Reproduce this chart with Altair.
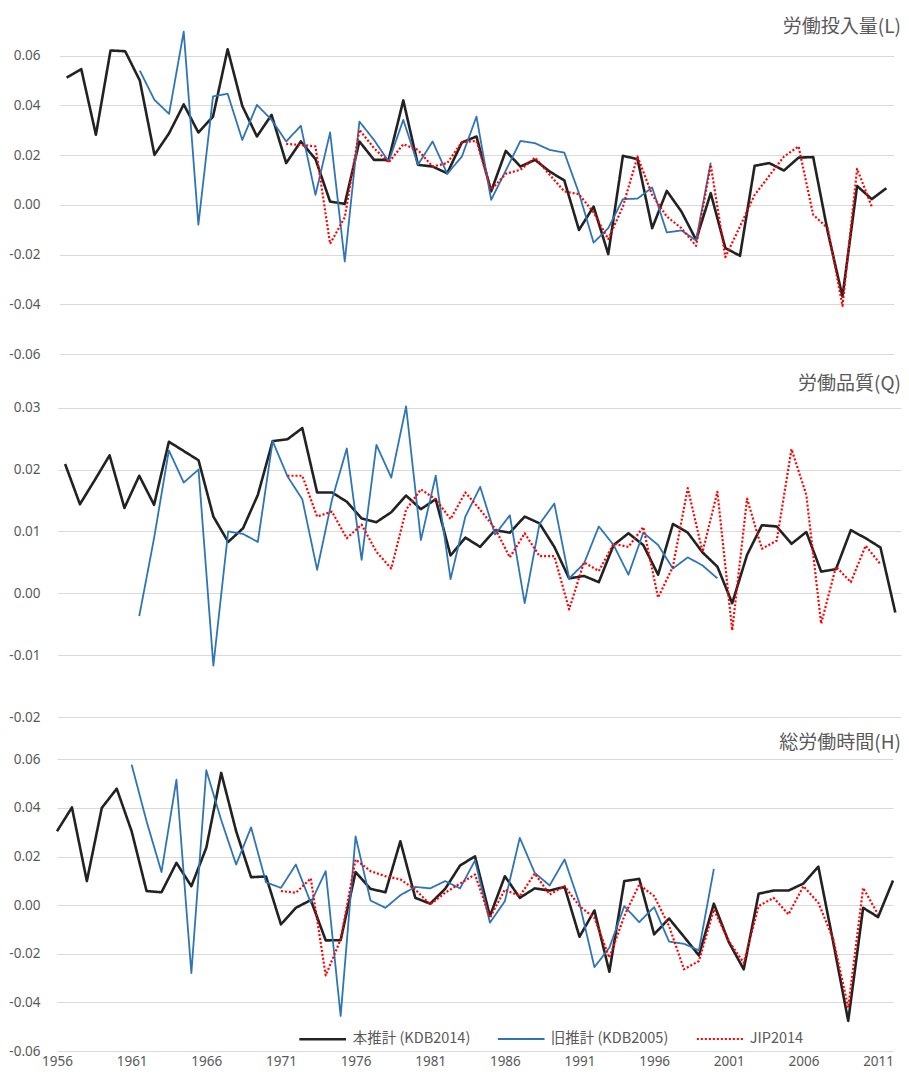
import altair as alt
import pandas as pd

years = list(range(1956, 2013))
years_kdb2005 = list(range(1961, 2001))
years_jip = list(range(1971, 2012))
series_names = ["本推計 (KDB2014)", "旧推計 (KDB2005)", "JIP2014"]
series_colors = ["#222222", "#2e75b6", "#ff0000"]
panel_titles = ["労働投入量(L)", "労働品質(Q)", "総労働時間(H)"]
x_tick_years = [1956, 1961, 1966, 1971, 1976, 1981, 1986, 1991, 1996, 2001, 2006, 2011]
ticks_L = [-0.06, -0.04, -0.02, 0.0, 0.02, 0.04, 0.06]
ticks_Q = [-0.02, -0.01, 0.0, 0.01, 0.02, 0.03]
ticks_H = [-0.06, -0.04, -0.02, 0.0, 0.02, 0.04, 0.06]

# 労働投入量 (L)
L_kdb2014 = [0.0512, 0.0546, 0.0282, 0.0621, 0.0618, 0.0500, 0.0201, 0.0288, 0.0404, 0.0291,
             0.0355, 0.0626, 0.0398, 0.0275, 0.0362, 0.0168, 0.0255, 0.0184, 0.0013, 0.0004,
             0.0255, 0.0181, 0.0181, 0.0420, 0.0161, 0.0154, 0.0127, 0.0251, 0.0275, 0.0054,
             0.0217, 0.0154, 0.0181, 0.0134, 0.0098, -0.0101, -0.0007, -0.0198, 0.0197, 0.0184,
             -0.0094, 0.0056, -0.0027, -0.0141, 0.0047, -0.0174, -0.0205, 0.0157, 0.0168, 0.0138,
             0.0190, 0.0192, -0.0110, -0.0369, 0.0076, 0.0023, 0.0067]
L_kdb2005 = [0.0540, 0.0422, 0.0366, 0.0697, -0.0080, 0.0436, 0.0447, 0.0261, 0.0402, 0.0342,
             0.0255, 0.0318, 0.0040, 0.0291, -0.0228, 0.0335, 0.0261, 0.0174, 0.0342, 0.0161,
             0.0255, 0.0125, 0.0194, 0.0355, 0.0020, 0.0138, 0.0257, 0.0248, 0.0221, 0.0210,
             0.0047, -0.0152, -0.0094, 0.0023, 0.0025, 0.0070, -0.0111, -0.0103, -0.0143, 0.0170]
L_jip2014 = [0.0245, 0.0241, 0.0235, -0.0157, -0.0050, 0.0302, 0.0228, 0.0170, 0.0244, 0.0221,
             0.0154, 0.0168, 0.0252, 0.0257, 0.0060, 0.0125, 0.0141, 0.0190, 0.0121, 0.0054,
             0.0043, -0.0031, -0.0138, -0.0007, 0.0194, 0.0040, -0.0047, -0.0094, -0.0165, 0.0161,
             -0.0210, -0.0087, 0.0040, 0.0117, 0.0194, 0.0235, -0.0040, -0.0094, -0.0406, 0.0145,
             -0.0007]

# 労働品質 (Q)
Q_kdb2014 = [0.0209, 0.0144, 0.0183, 0.0223, 0.0138, 0.0190, 0.0143, 0.0245, 0.0230, 0.0215,
             0.0124, 0.0083, 0.0105, 0.0159, 0.0246, 0.0249, 0.0267, 0.0163, 0.0163, 0.0148,
             0.0121, 0.0115, 0.0131, 0.0158, 0.0136, 0.0152, 0.0061, 0.0090, 0.0075, 0.0102,
             0.0098, 0.0124, 0.0113, 0.0075, 0.0024, 0.0028, 0.0018, 0.0078, 0.0097, 0.0078,
             0.0030, 0.0112, 0.0098, 0.0066, 0.0043, -0.0016, 0.0062, 0.0110, 0.0108, 0.0080,
             0.0099, 0.0035, 0.0039, 0.0102, 0.0089, 0.0074, -0.0031]
Q_kdb2005 = [-0.0037, 0.0089, 0.0231, 0.0179, 0.0200, -0.0117, 0.0100, 0.0096, 0.0083, 0.0246,
             0.0189, 0.0152, 0.0038, 0.0151, 0.0234, 0.0054, 0.0240, 0.0187, 0.0302, 0.0086,
             0.0190, 0.0023, 0.0124, 0.0172, 0.0095, 0.0126, -0.0016, 0.0112, 0.0145, 0.0024,
             0.0048, 0.0108, 0.0078, 0.0030, 0.0098, 0.0078, 0.0040, 0.0058, 0.0045, 0.0024]
Q_jip2014 = [0.0190, 0.0190, 0.0124, 0.0132, 0.0089, 0.0111, 0.0067, 0.0040, 0.0135, 0.0168,
             0.0152, 0.0120, 0.0163, 0.0135, 0.0105, 0.0058, 0.0097, 0.0060, 0.0060, -0.0026,
             0.0050, 0.0036, 0.0080, 0.0075, 0.0107, -0.0007, 0.0043, 0.0170, 0.0067, 0.0164,
             -0.0060, 0.0153, 0.0072, 0.0085, 0.0233, 0.0159, -0.0049, 0.0043, 0.0018, 0.0077,
             0.0047]

# 総労働時間 (H)
H_kdb2014 = [0.0304, 0.0402, 0.0099, 0.0400, 0.0479, 0.0304, 0.0058, 0.0053, 0.0174, 0.0078,
             0.0236, 0.0544, 0.0304, 0.0115, 0.0118, -0.0079, -0.0011, 0.0021, -0.0145, -0.0144,
             0.0136, 0.0067, 0.0053, 0.0263, 0.0030, 0.0006, 0.0067, 0.0163, 0.0201, -0.0045,
             0.0119, 0.0030, 0.0069, 0.0060, 0.0075, -0.0130, -0.0022, -0.0274, 0.0099, 0.0108,
             -0.0120, -0.0055, -0.0130, -0.0207, 0.0006, -0.0152, -0.0264, 0.0047, 0.0060, 0.0060,
             0.0089, 0.0158, -0.0154, -0.0476, -0.0011, -0.0049, 0.0101]
H_kdb2005 = [0.0578, 0.0345, 0.0136, 0.0516, -0.0280, 0.0555, 0.0350, 0.0167, 0.0320, 0.0094,
             0.0071, 0.0167, 0.0010, 0.0140, -0.0456, 0.0283, 0.0019, -0.0011, 0.0041, 0.0075,
             0.0069, 0.0099, 0.0069, 0.0184, -0.0072, 0.0016, 0.0277, 0.0133, 0.0081, 0.0188,
             0.0007, -0.0255, -0.0175, -0.0004, -0.0070, -0.0008, -0.0150, -0.0159, -0.0186, 0.0149]
H_jip2014 = [0.0058, 0.0051, 0.0110, -0.0289, -0.0141, 0.0188, 0.0140, 0.0119, 0.0106, 0.0064,
             0.0003, 0.0051, 0.0089, 0.0126, -0.0052, 0.0064, 0.0037, 0.0130, 0.0044, 0.0078,
             -0.0004, -0.0052, -0.0216, -0.0045, 0.0085, 0.0037, -0.0086, -0.0264, -0.0230, -0.0018,
             -0.0148, -0.0237, -0.0004, 0.0030, -0.0038, 0.0078, 0.0010, -0.0140, -0.0421, 0.0071,
             -0.0038]

LABEL_FONT = "Noto Sans"
CJK_FONT = "Noto Sans CJK JP"
GREY = "#595959"


def long_df(new, old, jip):
    rows = []
    for y, v in zip(years, new):
        rows.append({"year": y, "value": v, "series": series_names[0]})
    for y, v in zip(years_kdb2005, old):
        rows.append({"year": y, "value": v, "series": series_names[1]})
    for y, v in zip(years_jip, jip):
        rows.append({"year": y, "value": v, "series": series_names[2]})
    return pd.DataFrame(rows)


LABEL_EXPR = "datum.value < 0 ? '-' + format(-datum.value, '.2f') : format(datum.value, '.2f')"


def panel(df, title, width, height, xdom, xrange, ydom, yticks, title_y, show_x, show_legend):
    if show_legend:
        leg = alt.Legend(title=None, orient="none", legendX=240.7, legendY=297,
                         direction="horizontal", symbolType="stroke", symbolSize=2180,
                         labelFont=CJK_FONT, labelFontSize=14.5, labelColor=GREY,
                         labelOffset=5, columnPadding=23, padding=0)
    else:
        leg = None
    if xrange is not None:
        xscale = alt.Scale(domain=xdom, range=xrange, nice=False, zero=False)
    else:
        xscale = alt.Scale(domain=xdom, nice=False, zero=False)
    if show_x:
        xaxis = alt.Axis(values=x_tick_years, format="d", grid=False, domain=False, ticks=False,
                         labelPadding=3, labelFont=LABEL_FONT, labelFontSize=13.5,
                         labelColor=GREY, title=None, labelOverlap=False, labelFlush=False)
    else:
        xaxis = None
    lines = alt.Chart(df).mark_line(strokeJoin="round", strokeCap="butt").encode(
        x=alt.X("year:Q", scale=xscale, axis=xaxis),
        y=alt.Y("value:Q", scale=alt.Scale(domain=ydom, nice=False, zero=False),
                axis=alt.Axis(values=yticks, labelExpr=LABEL_EXPR, grid=True, gridColor="#d9d9d9",
                              gridWidth=1, domain=False, ticks=False, labelPadding=17,
                              labelFont=LABEL_FONT, labelFontSize=13.5, labelColor=GREY,
                              title=None)),
        color=alt.Color("series:N", scale=alt.Scale(domain=series_names, range=series_colors),
                        legend=leg),
        strokeDash=alt.StrokeDash("series:N",
                                  scale=alt.Scale(domain=series_names,
                                                  range=[[1, 0], [1, 0], [2, 2]]),
                                  legend=leg),
        strokeWidth=alt.StrokeWidth("series:N",
                                    scale=alt.Scale(type="ordinal", domain=series_names,
                                                    range=[2.6, 1.8, 2.2]),
                                    legend=leg),
    )
    ttl = alt.Chart(pd.DataFrame({"t": [title]})).mark_text(
        align="right", baseline="middle", font=CJK_FONT, fontSize=19, color=GREY
    ).encode(text="t:N", x=alt.value(844), y=alt.value(title_y))
    return alt.layer(lines, ttl).properties(width=width, height=height)


p1 = panel(long_df(L_kdb2014, L_kdb2005, L_jip2014), panel_titles[0], 837, 346,
           [1955.5, 2012.5], [2.3, 836.7], [-0.06, 0.07918], ticks_L, 18.7, False, False)
p2 = panel(long_df(Q_kdb2014, Q_kdb2005, Q_jip2014), panel_titles[1], 841, 363,
           [1955.5, 2012.5], [0.7, 845.7], [-0.02, 0.03868], ticks_Q, 30.3, False, False)
p3 = panel(long_df(H_kdb2014, H_kdb2005, H_jip2014), panel_titles[2], 836, 334,
           [1956, 2012], None, [-0.06, 0.0774], ticks_H, 26.3, True, True)

chart = alt.vconcat(p1, p2, p3, spacing=0, bounds="flush").resolve_scale(
    color="independent", strokeDash="independent", strokeWidth="independent"
).properties(
    padding={"left": 0, "top": 0, "right": 0, "bottom": 0},
    background="white",
).configure_view(stroke=None)

chart.save("out.html", embed_options={"renderer": "svg", "actions": False})
